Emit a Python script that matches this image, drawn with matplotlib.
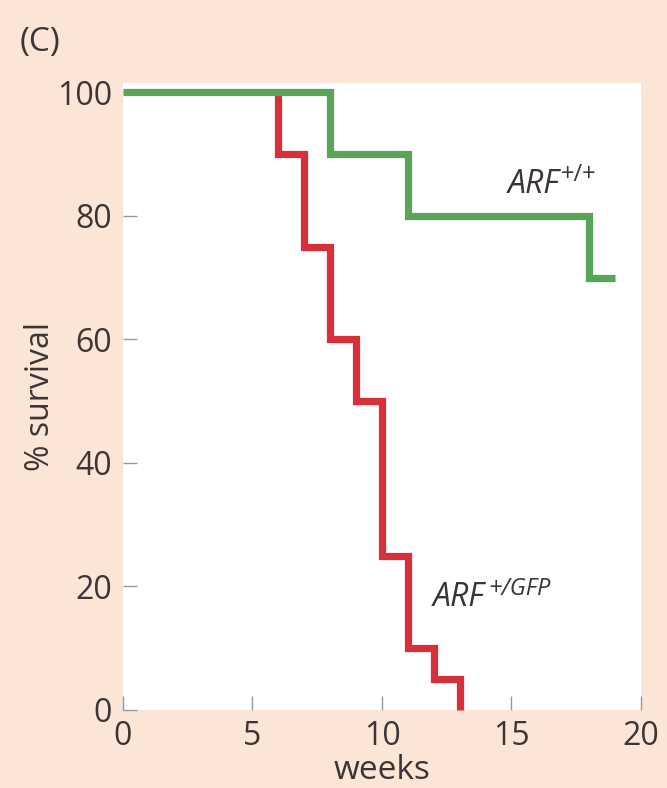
import matplotlib.pyplot as plt

plt.rcParams['font.family'] = ['Open Sans', 'DejaVu Sans']

# Kaplan-Meier style survival curves (step, post)
weeks_wt = [0, 8, 11, 18, 19]
surv_wt = [100, 90, 80, 70, 70]

weeks_gfp = [6, 6, 7, 8, 9, 10, 11, 12, 13]
surv_gfp = [100, 90, 75, 60, 50, 25, 10, 5, 0]

xticks = [0, 5, 10, 15, 20]
yticks = [0, 20, 40, 60, 80, 100]

bg = '#fbe5d6'
txt = '#3b3535'
green = '#58a55a'
red = '#d8303b'

fig = plt.figure(figsize=(6.67, 7.88), dpi=100, facecolor=bg)
ax = fig.add_axes([0.1844, 0.099, 0.7766, 0.7957])
ax.set_facecolor('white')

ax.step(weeks_gfp, surv_gfp, where='post', color=red, lw=5.2,
        solid_joinstyle='miter', solid_capstyle='butt', clip_on=False, zorder=3)
ax.step(weeks_wt, surv_wt, where='post', color=green, lw=5.2,
        solid_joinstyle='miter', solid_capstyle='butt', clip_on=False, zorder=4)

ax.set_xlim(0, 20)
ax.set_ylim(0, 101.5)
ax.set_xticks(xticks)
ax.set_yticks(yticks)
for s in ax.spines.values():
    s.set_visible(False)
ax.tick_params(direction='in', length=10, width=1, color='#9a9a9a',
               labelsize=23, labelcolor=txt)
ax.tick_params(axis='x', pad=7)
ax.tick_params(axis='y', pad=8)

ax.set_xlabel('weeks', fontsize=24, color=txt, labelpad=1)
ax.set_ylabel('% survival', fontsize=23, color=txt, labelpad=0)

# curve labels: italic ARF with a small superscript next to it
t1 = ax.text(14.85, 85, 'ARF', fontsize=23, style='italic', color=txt,
             va='center', ha='left')
ax.annotate('+/+', xy=(1, 1), xycoords=t1, xytext=(1, 4),
            textcoords='offset points', fontsize=17, color=txt,
            va='top', ha='left')
t2 = ax.text(11.95, 18.2, 'ARF', fontsize=23, style='italic', color=txt,
             va='center', ha='left')
ax.annotate('+/GFP', xy=(1, 1), xycoords=t2, xytext=(3, 3),
            textcoords='offset points', fontsize=17, style='italic',
            color=txt, va='top', ha='left')

fig.text(0.03, 0.946, '(C)', fontsize=24, color=txt, va='center', ha='left')

fig.savefig('out.png', dpi=100, facecolor=bg)
